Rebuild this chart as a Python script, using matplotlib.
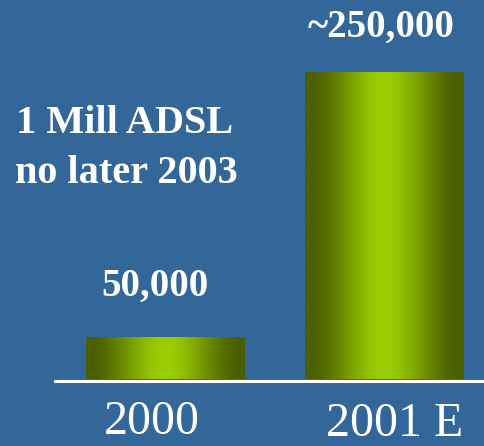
import numpy as np
import matplotlib
matplotlib.use("Agg")
import matplotlib.pyplot as plt
from matplotlib.colors import LinearSegmentedColormap

# Data
categories = ["2000", "2001 E"]
values = [50000, 250000]
value_labels = ["50,000", "~250,000"]
note_lines = ["1 Mill ADSL", "no later 2003"]

BG = "#336699"
W, H = 484, 446
fig = plt.figure(figsize=(W / 100, H / 100), dpi=100, facecolor=BG)
ax = fig.add_axes([0, 0, 1, 1])
ax.set_facecolor(BG)
ax.set_axis_off()

base = 18300
ax.set_xlim(-0.753, 1.457)
ax.set_ylim(-32265, 304330)

x = np.arange(len(categories))
bars = ax.bar(x, [v - base for v in values], bottom=base, width=0.7215,
              color="none", edgecolor="none", zorder=2)

# horizontal gradient: dark olive at edges, bright yellow-green in centre
cmap = LinearSegmentedColormap.from_list("g", ["#4b5e00", "#99cc00"])
t = np.linspace(0, 1, 300)
d = np.abs(t - 0.5) * 2  # 0 centre .. 1 edge
f = np.clip((0.9 - d) / 0.82, 0, 1)
f = 0.5 * f + 0.5 * f * f * (3 - 2 * f)
grad = f[np.newaxis, :]
for b in bars:
    x0, y0 = b.get_x(), b.get_y()
    im = ax.imshow(grad, cmap=cmap, vmin=0, vmax=1, aspect="auto",
                   extent=[x0, x0 + b.get_width(), y0, y0 + b.get_height()],
                   zorder=2, interpolation="bilinear")
    im.set_clip_path(b)

ax.set_xlim(-0.753, 1.457)
ax.set_ylim(-32265, 304330)

# baseline
ax.axhline(base - 1500, xmin=55 / W, xmax=1, color="white", lw=2.2, zorder=3)

serif = ["Liberation Serif", "DejaVu Serif"]

def px(xp, yp):
    return xp / W, 1 - yp / H

# value labels
for (xp, yp), lab in zip([(154.5, 296), (381, 37)], value_labels):
    fig.text(*px(xp, yp), lab, ha="center", va="baseline", color="white",
             fontsize=28, fontweight="bold", family=serif)

# category labels
for (xp, yp), lab in zip([(151.5, 434), (394.5, 436)], categories):
    fig.text(*px(xp, yp), lab, ha="center", va="baseline", color="white",
             fontsize=34.5, family=serif)

# note
for (xp, yp), lab in zip([(125, 133), (126, 183)], note_lines):
    fig.text(*px(xp, yp), lab, ha="center", va="baseline", color="white",
             fontsize=29, fontweight="bold", family=serif)

fig.savefig("out.png", dpi=100, facecolor=BG)
